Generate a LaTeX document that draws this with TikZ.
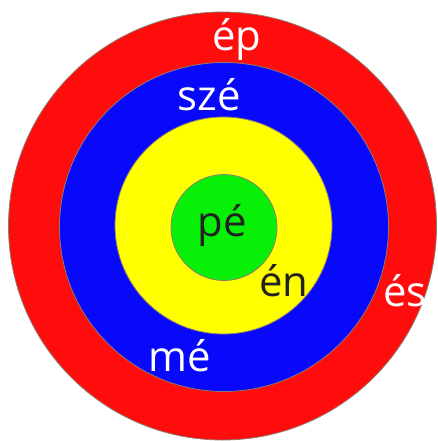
\documentclass[tikz,border=0pt]{standalone}
\usepackage{fontspec}
\setmainfont{Open Sans}
\usepackage{tikz}
\definecolor{ringred}{RGB}{255,12,12}
\definecolor{ringblue}{RGB}{8,8,250}
\definecolor{ringyellow}{RGB}{255,255,0}
\definecolor{ringgreen}{RGB}{8,240,8}
\definecolor{ringline}{RGB}{140,125,110}
\definecolor{darktext}{RGB}{34,34,34}

\begin{document}
\begin{tikzpicture}[
            x=1bp, y=-1bp,
            ring/.style={circle, draw=ringline, line width=0.8bp, inner sep=0pt},
            lbl/.style={font=\fontsize{42}{42}\selectfont, inner sep=0pt},
            lightlbl/.style={lbl, text=white},
            darklbl/.style={lbl, text=darktext}
        ]
            \useasboundingbox (0,0) rectangle (438,441);
            \node[ring, fill=ringred, minimum size=428bp] (ep) at (222.5,226) {};
            \node[ring, fill=ringblue, minimum size=329bp] (sze) at (224,227) {};
            \node[ring, fill=ringyellow, minimum size=217bp] (en) at (223.5,225.5) {};
            \node[ring, fill=ringgreen, minimum size=106bp] (pe) at (224,227.5) {};

            \node[lightlbl] (tep) at (237,40) {ép};
            \node[lightlbl] (tsze) at (209,95) {szé};
            \node[darklbl] (tpe) at (222,225) {pé};
            \node[darklbl] (ten) at (284,281) {én};
            \node[lightlbl] (tes) at (405,291) {és};
            \node[lightlbl] (tme) at (180,356) {mé};
        \end{tikzpicture}
\end{document}
